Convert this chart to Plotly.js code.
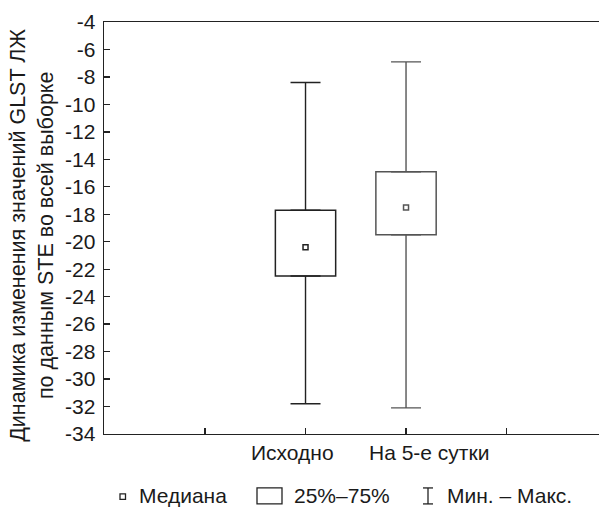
<!DOCTYPE html>
<html>
<head>
<meta charset="utf-8">
<script src="https://cdn.plot.ly/plotly-3.0.1.min.js"></script>
<style>html,body{margin:0;padding:0;background:#fff;}#chart{width:599px;height:507px;}</style>
</head>
<body>
<div id="chart"></div>
<script>
// ---- data ----
const categories = ['Исходно', 'На 5-е сутки'];
const medians = [-20.4, -17.5];
const q1 = [-22.5, -19.5];
const q3 = [-17.7, -14.9];
const mins = [-31.8, -32.1];
const maxs = [-8.4, -6.9];
const yTicks = [-34, -32, -30, -28, -26, -24, -22, -20, -18, -16, -14, -12, -10, -8, -6, -4];
const legendLabels = ['Медиана', '25%–75%', 'Мин. – Макс.'];
const yTitleLines = ['Динамика изменения значений GLST ЛЖ', 'по данным STE во всей выборке'];

// ---- styling ----
const FONT = 'Liberation Sans, Arial, sans-serif';
const TXT = '#1a1a1a';
const FS = 21;
const colors = ['#222222', '#555555'];
const xpos = categories.map((c, i) => i + 1);

const traces = [];
// boxes (25%-75%)
traces.push({
  type: 'bar', x: xpos, base: q1, y: q3.map((v, i) => v - q1[i]),
  width: 0.6, marker: {color: '#ffffff', line: {color: colors, width: 1.5}},
  showlegend: false, hoverinfo: 'skip'
});
// whiskers (outside the box)
categories.forEach((c, i) => {
  traces.push({
    type: 'scatter', mode: 'none', x: [xpos[i]], y: [q3[i]],
    error_y: {type: 'data', symmetric: false, array: [maxs[i] - q3[i]], arrayminus: [0],
              width: 15, thickness: 1.4, color: colors[i]},
    showlegend: false, hoverinfo: 'skip'
  });
  traces.push({
    type: 'scatter', mode: 'none', x: [xpos[i]], y: [q1[i]],
    error_y: {type: 'data', symmetric: false, array: [0], arrayminus: [q1[i] - mins[i]],
              width: 15, thickness: 1.4, color: colors[i]},
    showlegend: false, hoverinfo: 'skip'
  });
});
// medians
traces.push({
  type: 'scatter', mode: 'markers', x: xpos, y: medians,
  marker: {symbol: 'square', size: 5, color: '#ffffff', line: {color: colors, width: 1.5}},
  showlegend: false, hoverinfo: 'skip'
});

// plot area in px
const L = 104, R = 599, T = 21.5, B = 434;
const px = v => (v - L) / (R - L);
const py = v => (B - v) / (B - T);

const annotations = [];
categories.forEach((c, i) => {
  annotations.push({
    text: c, x: xpos[i], xref: 'x', y: py(453), yref: 'paper',
    xanchor: 'center', yanchor: 'middle', showarrow: false,
    xshift: i === 0 ? -13 : 23,
    font: {family: FONT, size: FS, color: TXT}
  });
});
const legX = [137, 292, 445];
legendLabels.forEach((t, i) => {
  annotations.push({
    text: t, x: px(legX[i]), xref: 'paper', y: py(496), yref: 'paper',
    xanchor: 'left', yanchor: 'middle', showarrow: false,
    font: {family: FONT, size: FS, color: TXT}
  });
});
annotations.push({
  text: yTitleLines.join('<br>'), x: px(32.5), xref: 'paper', y: py(235), yref: 'paper',
  xanchor: 'center', yanchor: 'middle', textangle: -90, showarrow: false,
  font: {family: FONT, size: 21.5, color: TXT}
});

const shapes = [
  // median symbol
  {type: 'rect', xref: 'paper', yref: 'paper', x0: px(120), x1: px(125.5), y0: py(499.5), y1: py(494),
   line: {color: '#222', width: 1.3}, fillcolor: '#fff'},
  // box symbol
  {type: 'rect', xref: 'paper', yref: 'paper', x0: px(257), x1: px(282), y0: py(504), y1: py(488),
   line: {color: '#222', width: 1.3}, fillcolor: '#fff'},
  // whisker symbol
  {type: 'line', xref: 'paper', yref: 'paper', x0: px(428), x1: px(428), y0: py(504), y1: py(488),
   line: {color: '#222', width: 1.3}},
  {type: 'line', xref: 'paper', yref: 'paper', x0: px(423), x1: px(433), y0: py(488), y1: py(488),
   line: {color: '#222', width: 1.3}},
  {type: 'line', xref: 'paper', yref: 'paper', x0: px(423), x1: px(433), y0: py(504), y1: py(504),
   line: {color: '#222', width: 1.3}}
];

const layout = {
  width: 599, height: 507,
  margin: {l: L, r: 599 - R, t: T, b: 507 - B, pad: 0},
  paper_bgcolor: '#fff', plot_bgcolor: '#fff',
  showlegend: false,
  font: {family: FONT, size: FS, color: TXT},
  xaxis: {
    range: [-1.005, 3.92], tickvals: [0, 1, 2, 3], showticklabels: false,
    ticks: 'inside', ticklen: 6, tickwidth: 1.3, tickcolor: '#222',
    showline: true, linecolor: '#222', linewidth: 1.4, mirror: true,
    showgrid: false, zeroline: false, fixedrange: true
  },
  yaxis: {
    range: [-34, -4], tickvals: yTicks, ticktext: yTicks.map(String),
    ticks: 'inside', ticklen: 6, tickwidth: 1.3, tickcolor: '#222',
    ticklabelstandoff: 3,
    tickfont: {family: FONT, size: FS, color: TXT},
    showline: true, linecolor: '#222', linewidth: 1.4,
    showgrid: false, zeroline: false, fixedrange: true
  },
  annotations: annotations,
  shapes: shapes
};

Plotly.newPlot('chart', traces, layout, {displayModeBar: false, staticPlot: true});
</script>
</body>
</html>
